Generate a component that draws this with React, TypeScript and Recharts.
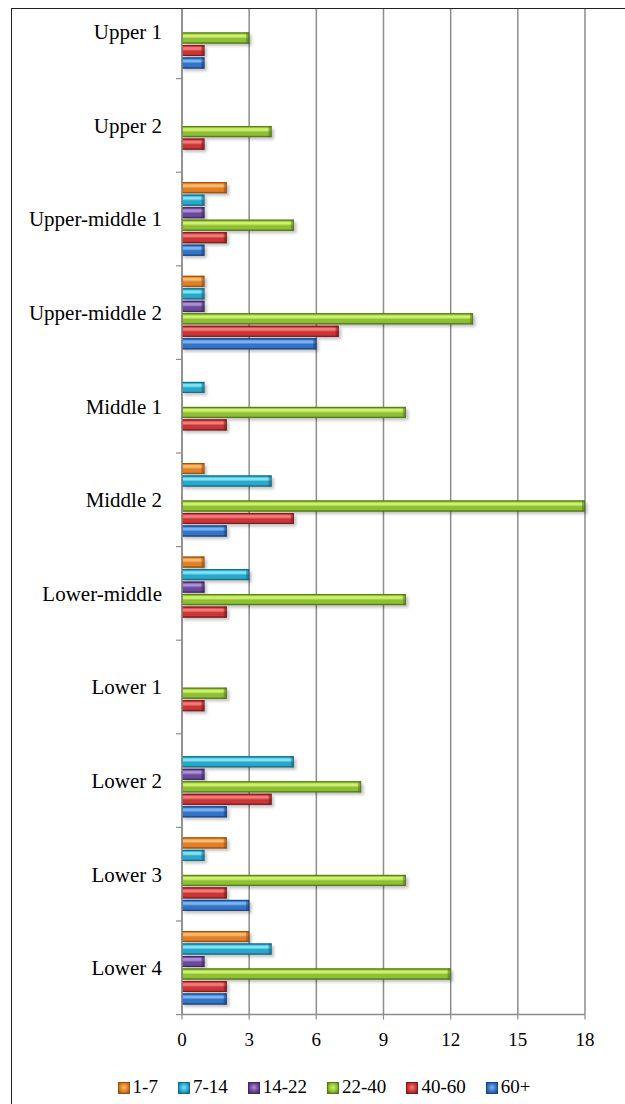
import React from "react";
import { Bar, BarChart, CartesianGrid, XAxis, YAxis } from "recharts";

const categories = [
  "Upper 1",
  "Upper 2",
  "Upper-middle 1",
  "Upper-middle 2",
  "Middle 1",
  "Middle 2",
  "Lower-middle",
  "Lower 1",
  "Lower 2",
  "Lower 3",
  "Lower 4",
];

const ages1to7 = [0, 0, 2, 1, 0, 1, 1, 0, 0, 2, 3];
const ages7to14 = [0, 0, 1, 1, 1, 4, 3, 0, 5, 1, 4];
const ages14to22 = [0, 0, 1, 1, 0, 0, 1, 0, 1, 0, 1];
const ages22to40 = [3, 4, 5, 13, 10, 18, 10, 2, 8, 10, 12];
const ages40to60 = [1, 1, 2, 7, 2, 5, 2, 1, 4, 2, 2];
const ages60plus = [1, 0, 1, 6, 0, 2, 0, 0, 2, 3, 2];

const xTicks = [0, 3, 6, 9, 12, 15, 18];

const series = [
  { key: "a1", label: "1-7", values: ages1to7, base: "#e17f27", light: "#f9bb6e", dark: "#955010" },
  { key: "a2", label: "7-14", values: ages7to14, base: "#27a9cc", light: "#85e2f5", dark: "#156a83" },
  { key: "a3", label: "14-22", values: ages14to22, base: "#6a4a9b", light: "#ad90d4", dark: "#3f2763" },
  { key: "a4", label: "22-40", values: ages22to40, base: "#8ec033", light: "#cfef70", dark: "#517815" },
  { key: "a5", label: "40-60", values: ages40to60, base: "#cb3536", light: "#f07d7c", dark: "#7e1a1c" },
  { key: "a6", label: "60+", values: ages60plus, base: "#3473c5", light: "#76b5f1", dark: "#184384" },
];

const data = categories.map((name, i) => {
  const row: Record<string, string | number> = { name };
  series.forEach((s) => {
    row[s.key] = s.values[i];
  });
  return row;
});

const FONT = '"Liberation Serif", "Times New Roman", serif';
const AXIS_LEFT = 170;
const PLOT_H = 1029.6;
const X_AXIS_H = 50;
const BAND = PLOT_H / categories.length;
const GRID = "#8c8c8c";

const makeBar = (s: (typeof series)[number]) => (props: any) => {
  const { x, y, width, height } = props;
  if (!width || width <= 0) return <g />;
  return (
    <g>
      <rect
        x={x + 1.5}
        y={y + 2.5}
        width={width + 1}
        height={height}
        fill="#000"
        opacity={0.24}
        filter="url(#barShadow)"
      />
      <rect x={x} y={y} width={width} height={height} fill={`url(#g-${s.key})`} />
      <rect
        x={x + width - 3}
        y={y}
        width={3}
        height={height}
        fill={s.dark}
        opacity={0.55}
      />
      <rect
        x={x + 0.4}
        y={y + 0.4}
        width={Math.max(width - 0.8, 0)}
        height={height - 0.8}
        fill="none"
        stroke={s.dark}
        strokeWidth={0.8}
      />
    </g>
  );
};

const CategoryTick = (props: any) => {
  const { y, payload, index } = props;
  const last = index === categories.length - 1;
  return (
    <g>
      <line x1={AXIS_LEFT - 6} x2={AXIS_LEFT} y1={y - BAND / 2} y2={y - BAND / 2} stroke={GRID} strokeWidth={1.2} />
      {last && (
        <line x1={AXIS_LEFT - 6} x2={AXIS_LEFT} y1={y + BAND / 2} y2={y + BAND / 2} stroke={GRID} strokeWidth={1.2} />
      )}
      <text
        x={AXIS_LEFT - 20}
        y={y}
        dy="0.35em"
        textAnchor="end"
        fontFamily={FONT}
        fontSize={21}
        fill="#000"
      >
        {payload.value}
      </text>
    </g>
  );
};

const LegendSwatch = ({ s }: { s: (typeof series)[number] }) => (
  <span
    style={{
      display: "inline-block",
      width: 10,
      height: 10,
      marginRight: 3,
      border: `1px solid ${s.dark}`,
      background: `radial-gradient(circle at 50% 45%, ${s.light} 0%, ${s.base} 55%, ${s.dark} 100%)`,
      verticalAlign: "middle",
      position: "relative",
      top: -1,
    }}
  />
);

export default function App() {
  return (
    <div
      style={{
        position: "absolute",
        left: 11,
        top: 8,
        width: 613,
        height: 1095,
        borderTop: "1px solid #222",
        borderLeft: "1px solid #222",
        overflow: "hidden",
        background: "#fff",
      }}
    >
      <div style={{ position: "absolute", left: 0, top: -23.6 }}>
        <BarChart
          width={613}
          height={PLOT_H + X_AXIS_H}
          data={data}
          layout="vertical"
          barSize={11}
          barGap={1.5}
          margin={{ top: 0, right: 40, bottom: 0, left: 0 }}
        >
          <defs>
            <filter id="barShadow" x="-10%" y="-60%" width="120%" height="220%">
              <feGaussianBlur stdDeviation="1.4" />
            </filter>
            {series.map((s) => (
              <linearGradient key={s.key} id={`g-${s.key}`} x1="0" y1="0" x2="0" y2="1">
                <stop offset="0%" stopColor={s.dark} />
                <stop offset="12%" stopColor={s.base} />
                <stop offset="24%" stopColor={s.light} />
                <stop offset="38%" stopColor={s.light} />
                <stop offset="55%" stopColor={s.base} />
                <stop offset="82%" stopColor={s.base} />
                <stop offset="100%" stopColor={s.dark} />
              </linearGradient>
            ))}
          </defs>
          <CartesianGrid horizontal={false} stroke={GRID} strokeWidth={1.5} />
          <XAxis
            type="number"
            domain={[0, 18]}
            ticks={xTicks}
            interval={0}
            height={X_AXIS_H}
            axisLine={{ stroke: GRID, strokeWidth: 1.5 }}
            tickLine={{ stroke: GRID, strokeWidth: 1.2 }}
            tickSize={5}
            tickMargin={13}
            tick={{ fontFamily: FONT, fontSize: 19, fill: "#000" }}
          />
          <YAxis
            type="category"
            dataKey="name"
            width={AXIS_LEFT}
            interval={0}
            axisLine={{ stroke: GRID, strokeWidth: 1.5 }}
            tickLine={false}
            tick={<CategoryTick />}
          />
          {series.map((s) => (
            <Bar key={s.key} dataKey={s.key} name={s.label} shape={makeBar(s)} isAnimationActive={false} />
          ))}
        </BarChart>
      </div>
      <div
        style={{
          position: "absolute",
          left: 0,
          width: 624,
          top: 1067,
          height: 22,
          lineHeight: "22px",
          display: "flex",
          justifyContent: "center",
          gap: 20,
          fontFamily: FONT,
          fontSize: 19,
          color: "#000",
          whiteSpace: "nowrap",
        }}
      >
        {series.map((s) => (
          <span key={s.key}>
            <LegendSwatch s={s} />
            {s.label}
          </span>
        ))}
      </div>
    </div>
  );
}
